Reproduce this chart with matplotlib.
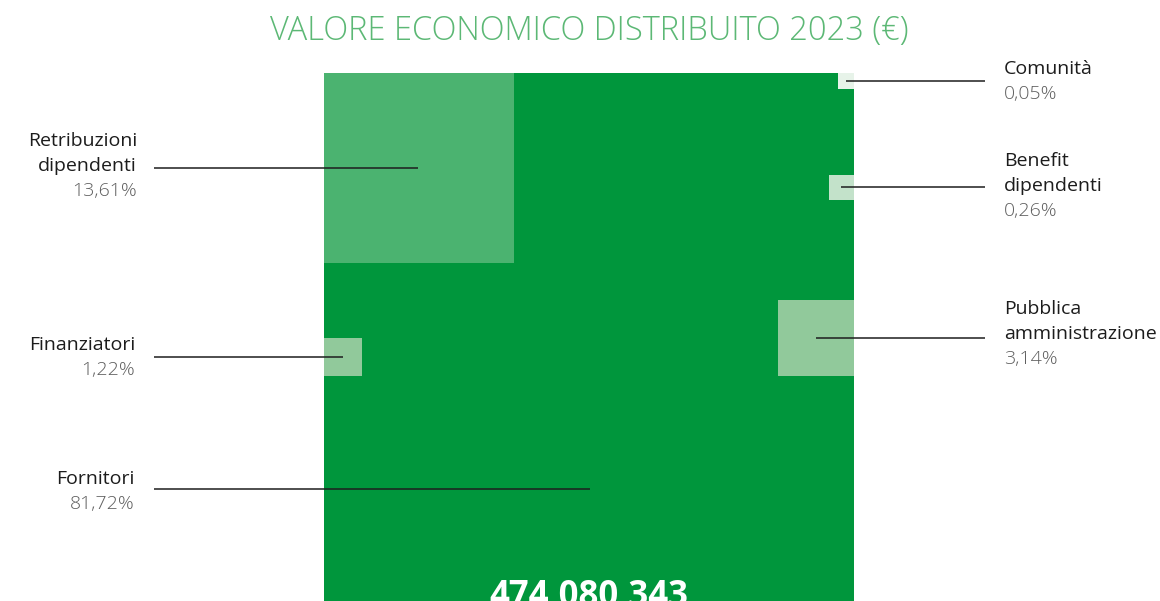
import matplotlib
matplotlib.use("Agg")
import matplotlib.pyplot as plt
from matplotlib.patches import Rectangle

# ---- data ----
categories = ["Fornitori", "Retribuzioni\ndipendenti", "Finanziatori",
              "Pubblica\namministrazione", "Benefit\ndipendenti", "Comunità"]
shares = [81.72, 13.61, 1.22, 3.14, 0.26, 0.05]
total_value = 474080343
title = "VALORE ECONOMICO DISTRIBUITO 2023 (€)"

# ---- layout (pixel space) ----
W, H = 1160, 601
outer = dict(x=324, y=73, side=530)
squares = [None, (324, 73, 189.5), (324, 338, 38), (778, 300, 76), (829, 175, 25), (838, 73, 16)]
fills = ["#00963c", "#4bb370", "#91c99b", "#91c99b", "#c3e2ca", "#e7f3e9"]
leaders = [(154, 590, 489), (154, 418, 168), (154, 343, 357), (985, 816, 338), (985, 841, 187), (985, 846, 81)]
labels_pos = [(135, 484, "right"), (137, 146, "right"), (135, 350, "right"),
              (1004, 314, "left"), (1004, 166, "left"), (1004, 74, "left")]
line_h = 25
FONT = "Open Sans"
FS = 14.0

fig = plt.figure(figsize=(W / 100, H / 100), dpi=100)
ax = fig.add_axes([0, 0, 1, 1])
ax.set_xlim(0, W)
ax.set_ylim(H, 0)
ax.axis("off")

ax.add_patch(Rectangle((outer["x"], outer["y"]), outer["side"], outer["side"],
                       facecolor=fills[0], edgecolor="none", zorder=1))
for sq, c in zip(squares, fills):
    if sq is None:
        continue
    x0, y0, s = sq
    ax.add_patch(Rectangle((x0, y0), s, s, facecolor=c, edgecolor="none", zorder=2))

for (xa, xb, y) in leaders:
    ax.plot([xa, xb], [y, y], color="#1e1e1e", lw=1.1, zorder=3, solid_capstyle="butt")

for cat, val, (x, yb, ha) in zip(categories, shares, labels_pos):
    lines = cat.split("\n")
    for i, ln in enumerate(lines):
        ax.text(x, yb + i * line_h, ln, ha=ha, va="baseline", fontsize=FS,
                family=FONT, color="#1c1c1c", zorder=4)
    pct = f"{val:.2f}".replace(".", ",") + "%"
    ax.text(x, yb + len(lines) * line_h, pct, ha=ha, va="baseline", fontsize=FS,
            family=FONT, fontweight=300, color="#5e5e5e", zorder=4)

ax.text(589, 40, title, ha="center", va="baseline", fontsize=23.5,
        family=FONT, fontweight=300, color="#5cb875")

ax.text(589, 606, f"{total_value:,}", ha="center", va="baseline", fontsize=25,
        family=FONT, fontweight="bold", color="white", zorder=5)

fig.savefig("out.png", dpi=100)
